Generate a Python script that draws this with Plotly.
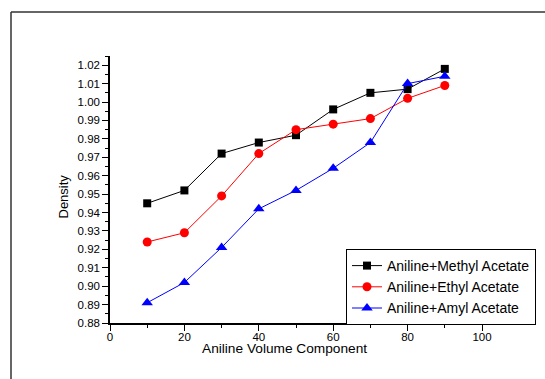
import plotly.graph_objects as go

x_vals = [10, 20, 30, 40, 50, 60, 70, 80, 90]
methyl = [0.945, 0.952, 0.972, 0.978, 0.982, 0.996, 1.005, 1.007, 1.018]
ethyl = [0.924, 0.929, 0.949, 0.972, 0.985, 0.988, 0.991, 1.002, 1.009]
amyl = [0.891, 0.902, 0.921, 0.942, 0.952, 0.964, 0.978, 1.010, 1.014]

series = [
    ("Aniline+Methyl Acetate", methyl, "black", "square", 8),
    ("Aniline+Ethyl Acetate", ethyl, "red", "circle", 9),
    ("Aniline+Amyl Acetate", amyl, "blue", "triangle-up", 10),
]

FONT = "Arial, Liberation Sans, sans-serif"

fig = go.Figure()
for name, ys, col, sym, sz in series:
    fig.add_trace(go.Scatter(
        x=x_vals, y=ys, name=name, mode="lines+markers",
        line=dict(color=col, width=1),
        marker=dict(symbol=sym, size=sz, color=col),
        cliponaxis=False,
    ))

W, H = 545, 379
L, R, T, B = 110, 63, 56, 56
pw = W - L - R
ph = H - T - B

def px_to_paper_x(px):
    return (px - L) / pw

def px_to_paper_y(py):
    return (H - B - py) / ph

axis_common = dict(
    showgrid=False, zeroline=False, showline=True, linecolor="black", linewidth=1.5,
    ticks="outside", ticklen=6, tickwidth=1, tickcolor="black",
    tickfont=dict(family=FONT, size=11.5, color="black"),
    mirror=False, automargin=False,
)

fig.update_xaxes(range=[0, 100], tick0=0, dtick=20, ticklabelstandoff=-4,
                 minor=dict(dtick=10, ticks="outside", ticklen=3, tickcolor="black", showgrid=False),
                 **axis_common)
fig.update_yaxes(range=[0.88, 1.025], tick0=0.88, dtick=0.01, tickformat=".2f",
                 minor=dict(dtick=0.005, ticks="outside", ticklen=3, tickcolor="black", showgrid=False),
                 **axis_common)

fig.update_layout(
    width=W, height=H,
    margin=dict(l=L, r=R, t=T, b=B, pad=0, autoexpand=False),
    paper_bgcolor="white", plot_bgcolor="white",
    font=dict(family=FONT, color="black"),
    showlegend=True,
    legend=dict(
        x=px_to_paper_x(346), y=px_to_paper_y(249), xanchor="left", yanchor="top",
        bgcolor="white", bordercolor="black", borderwidth=1,
        font=dict(family=FONT, size=14, color="black"),
        tracegroupgap=0, itemwidth=30,
    ),
    annotations=[
        dict(text="Aniline Volume Component", x=px_to_paper_x(284), y=px_to_paper_y(348),
             xref="paper", yref="paper", showarrow=False, xanchor="center", yanchor="middle",
             font=dict(family=FONT, size=13.7, color="black")),
        dict(text="Density", x=px_to_paper_x(62.5), y=px_to_paper_y(197),
             xref="paper", yref="paper", showarrow=False, xanchor="center", yanchor="middle",
             textangle=-90, font=dict(family=FONT, size=13, color="black")),
    ],
    shapes=[
        dict(type="line", xref="paper", yref="paper",
             x0=px_to_paper_x(11), x1=px_to_paper_x(11),
             y0=px_to_paper_y(12), y1=px_to_paper_y(385),
             line=dict(color="#333333", width=1.5)),
        dict(type="line", xref="paper", yref="paper",
             x0=px_to_paper_x(11), x1=px_to_paper_x(550),
             y0=px_to_paper_y(12), y1=px_to_paper_y(12),
             line=dict(color="#333333", width=1.5)),
    ],
)

fig.write_html("out.html")
